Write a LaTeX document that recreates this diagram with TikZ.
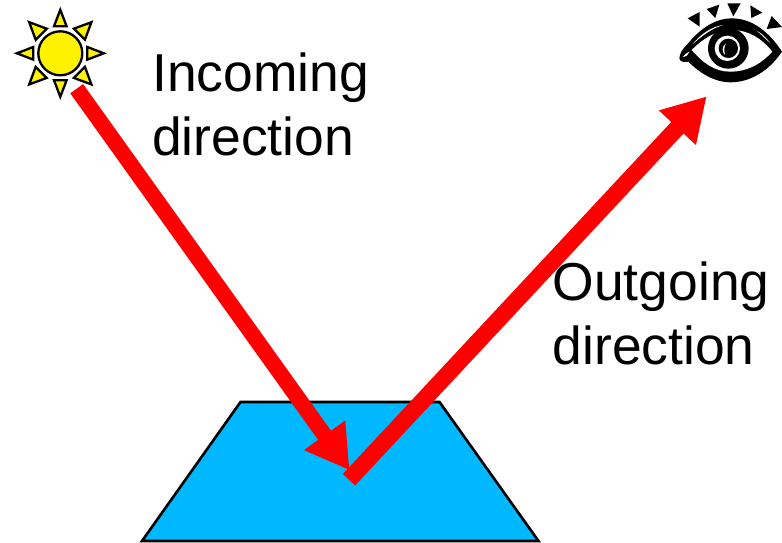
\documentclass[tikz,border=0pt]{standalone}
\usepackage{fontspec}
\setmainfont{Liberation Sans}
\usetikzlibrary{arrows.meta}
\definecolor{skyb}{RGB}{0,184,255}
\tikzset{
  label text/.style={anchor=base west,inner sep=0pt,font=\fontsize{53.4}{64}\selectfont,align=left},
  ray/.style={draw=red,-{Triangle[length=43pt,width=47.5pt]}},
  sunray/.style={draw=black,fill=yellow,line width=2.3pt,line join=miter},
  lash/.style={fill=black},
}
\begin{document}
\begin{tikzpicture}[x=1pt,y=-1pt]
\useasboundingbox (0,0) rectangle (782,542);
% surface
\draw[fill=skyb,line width=2.6pt,line join=miter] (240.5,402) -- (439.5,402) -- (538.5,541) -- (142,541) -- cycle;
% sun
\begin{scope}[shift={(60.3,53.3)}]
  \draw[sunray] (0,0) circle (22);
  \foreach \a in {0,90,180,270}
    \draw[sunray,rotate=\a] (27,-6.3) -- (43.5,0) -- (27,6.3) -- cycle;
  \foreach \a in {45,135,225,315}
    \draw[sunray,rotate=\a] (27,-7.8) -- (44,0) -- (27,7.8) -- cycle;
\end{scope}
% eye
\begin{scope}[shift={(640,0)},x=0.3333pt,y=-0.3333pt]
  \fill[black] (118,175) .. controls (120,160) and (125,150) .. (140,135)
    .. controls (185,80) and (230,55) .. (275,55)
    .. controls (340,55) and (390,100) .. (426,155)
    .. controls (385,215) and (330,247) .. (270,247)
    .. controls (225,247) and (180,220) .. (145,185)
    .. controls (135,187) and (120,187) .. (118,175) -- cycle;
  \fill[white] (155,150) .. controls (195,110) and (235,90) .. (275,90)
    .. controls (325,90) and (365,115) .. (397,155)
    .. controls (360,195) and (320,215) .. (270,215)
    .. controls (225,215) and (190,190) .. (155,150) -- cycle;
  \fill[white] (128,172) .. controls (132,165) and (140,158) .. (148,155)
    .. controls (143,165) and (138,172) .. (128,172) -- cycle;
  \fill[white] (158,132) .. controls (185,100) and (215,80) .. (250,75)
    .. controls (215,85) and (190,105) .. (158,132) -- cycle;
  \fill[white] (350,92) .. controls (365,100) and (380,115) .. (392,130)
    .. controls (378,118) and (365,105) .. (350,92) -- cycle;
  \fill[black] (265,145) circle (61);
  \fill[white] (262,145) circle (38);
  \fill[black] (265,145) circle (29);
  \fill[white] (258,130) .. controls (245,140) and (245,155) .. (255,165)
    .. controls (252,150) and (252,140) .. (258,130) -- cycle;
  \fill[lash] (143,55) -- (179,36) -- (179,80) -- cycle;
  \fill[lash] (200,27) -- (238,14) -- (226,54) -- cycle;
  \fill[lash] (262,10) -- (302,10) -- (280,49) -- cycle;
  \fill[lash] (331,16) -- (367,38) -- (334,54) -- cycle;
  \fill[lash] (395,48) -- (426,81) -- (380,87) -- cycle;
\end{scope}
% rays
\coordinate (inStart) at (76.7,88.7);
\coordinate (hit) at (349.6,470.3);
\coordinate (outStart) at (349,479.7);
\coordinate (outEnd) at (706.7,96.3);
\draw[ray,line width=15.8pt] (inStart) -- (hit);
\draw[ray,line width=16.8pt] (outStart) -- (outEnd);
% labels
\node[label text] (incoming) at (152,155) {Incoming\\direction};
\node[label text] (outgoing) at (552.5,364) {Outgoing\\direction};
\end{tikzpicture}
\end{document}
